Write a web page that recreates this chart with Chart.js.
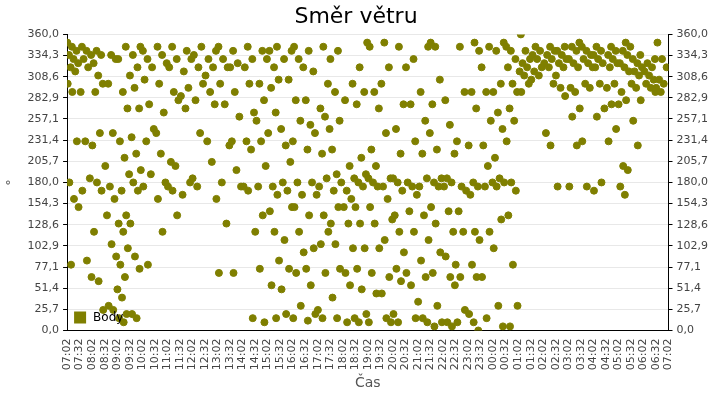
<!DOCTYPE html>
<html><head><meta charset="utf-8">
<script src="https://cdn.jsdelivr.net/npm/chart.js@4"></script>
<style>body{margin:0;background:#fff}#w{width:720px;height:400px}</style>
</head><body><div id="w"><canvas id="c"></canvas></div>
<script>
const seriesName = "Body";
const startLabel = "07:02";
// wind direction (degrees) read per 30-minute slot, slot 0 starts 07:02
const slotValues = [
 [350,345,340,335,330,325,320,315,300,290,230,180,160,150,80],
 [345,340,335,330,320,290,230,185,170,85,65],
 [340,335,325,310,300,290,240,225,180,170,120,60,25],
 [335,330,300,240,200,175,160,140,105,90,30,25],
 [345,330,290,270,230,210,190,170,140,130,120,100,80,65,50,40,20,15,10],
 [345,335,320,310,295,270,235,215,195,180,170,130,90,75,20,15],
 [340,330,320,305,275,245,230,190,175,80],
 [345,335,325,300,265,240,215,180,160,120],
 [345,330,320,290,280,205,200,175,170,140],
 [340,330,315,295,285,270,180,165],
 [345,335,320,300,280,240,185,175],
 [340,330,320,310,290,275,230,205,160],
 [345,330,320,300,275,225,180,130,70],
 [340,325,320,290,260,230,195,175,70],
 [345,330,320,300,265,230,220,175,170,15],
 [340,330,300,280,255,230,200,175,140,120,75,10],
 [345,340,320,305,295,265,240,175,165,145,120,85,55,15],
 [340,330,305,245,225,205,180,170,150,110,75,50,20],
 [345,330,320,280,255,230,180,165,150,120,95,70,30,15],
 [340,315,280,250,240,220,180,165,140,100,75,55,20,12],
 [345,300,270,260,245,215,185,175,140,120,105,70,25,15],
 [340,330,290,255,220,190,180,170,150,130,105,75,40,15],
 [300,280,200,185,170,160,150,130,100,70,55,15,10],
 [350,320,290,275,210,190,180,175,150,130,100,75,50,20,10],
 [345,290,270,220,200,185,180,175,150,130,100,70,45,10],
 [350,320,300,240,185,175,160,135,110,65,45,15,10],
 [345,275,245,215,185,180,170,140,120,95,75,60,20,10],
 [330,320,275,230,180,175,165,145,120,70,55,15],
 [345,290,255,240,215,185,175,140,110,85,65,35,15,10],
 [350,345,305,275,220,185,180,175,150,130,95,70,30,10,5],
 [280,250,215,185,180,175,145,120,90,65,55,10,5],
 [345,290,230,175,170,145,120,80,65,25,10],
 [350,340,290,270,225,180,175,165,120,110,80,65,20,10,0],
 [345,320,290,255,225,200,180,175,120,65,15],
 [350,340,300,290,265,245,210,185,180,175,135,100,30,5],
 [345,340,330,320,300,290,270,255,230,180,170,140,80,30,5],
 [360,340,330,325,320,315,310,300,290],
 [345,340,335,330,320,315,310,305],
 [345,340,335,330,325,320,300,240,225],
 [345,340,335,330,325,320,310,295,285,175],
 [350,345,340,330,325,320,295,290,270,260,225,175],
 [345,340,335,330,325,320,300,295,230,175],
 [345,340,335,330,325,320,300,270,260,180,170],
 [345,340,335,330,325,320,300,295,275,245,230],
 [350,345,340,335,325,320,315,290,280,275,200,195,175,165],
 [335,330,325,320,315,310,300,295,280,255,225],
 [330,325,320,315,310,305,300,295,290],
 [350,330,320,305,300,295,290]
];
const yMax = 360, ySteps = 14, xMaxMin = 1440, tickEvery = 30;

const points = [];
slotValues.forEach((vals, i) => {
  vals.forEach((v, j) => {
    points.push({x: 30*i + ((j*11 + i*5) % 29) + 0.5, y: v});
  });
});
const col = '#7f7f00';
function fmtTime(m){
  const [h0,m0] = startLabel.split(':').map(Number);
  let t = (h0*60+m0+m) % 1440;
  return String(Math.floor(t/60)).padStart(2,'0')+':'+String(t%60).padStart(2,'0');
}
const yTick = v => (Math.round(v*10)/10).toFixed(1).replace('.',',');
const legendPlugin = {
  id:'lg',
  afterDatasetsDraw(ch){
    const c = ch.ctx, a = ch.chartArea;
    c.save();
    c.fillStyle = col; c.fillRect(a.left+7, a.bottom-19, 12, 12);
    c.fillStyle = '#000'; c.font = '12px "DejaVu Sans"'; c.textBaseline='middle';
    c.fillText(seriesName, a.left+26, a.bottom-13);
    c.restore();
  }
};
const yAxis = (pos) => ({
  position: pos, min:0, max:yMax,
  afterBuildTicks(ax){ ax.ticks = Array.from({length:ySteps+1},(_,k)=>({value:k*yMax/ySteps})); },
  ticks:{color:'#444', font:{family:'DejaVu Sans', size:11}, callback:yTick, padding:4},
  grid:{color: pos==='left' ? '#e8e8e8' : 'transparent', drawTicks:true, tickColor:'#000', tickLength:4},
  border:{color:'#000'},
  title: pos==='left' ? {display:true, text:'°', color:'#555', font:{family:'DejaVu Sans', size:13}} : {display:false}
});
new Chart(document.getElementById('c'), {
  type:'scatter',
  data:{datasets:[{label:seriesName, data:points, backgroundColor:col, borderColor:col, pointRadius:3.5, pointHoverRadius:3.5}]},
  options:{
    responsive:true, maintainAspectRatio:false, animation:false,
    layout:{padding:{left:0,right:8,top:0,bottom:4}},
    plugins:{legend:{display:false}, tooltip:{enabled:false},
      title:{display:true, text:'Směr větru', color:'#000', font:{family:'DejaVu Sans', size:22, weight:'normal'}, padding:{top:4,bottom:4}}},
    scales:{
      x:{type:'linear', min:0, max:xMaxMin,
        afterBuildTicks(ax){ ax.ticks = Array.from({length:xMaxMin/tickEvery+1},(_,k)=>({value:k*tickEvery})); },
        ticks:{color:'#444', font:{family:'DejaVu Sans', size:11}, maxRotation:90, minRotation:90, autoSkip:false, callback:v=>fmtTime(v)},
        grid:{display:false, drawTicks:true, tickColor:'#000', tickLength:5},
        border:{color:'#000'},
        title:{display:true, text:'Čas', color:'#555', font:{family:'DejaVu Sans', size:14}, padding:{top:2}}
      },
      y: yAxis('left'),
      y2: yAxis('right')
    }
  },
  plugins:[legendPlugin]
});
</script></body></html>
